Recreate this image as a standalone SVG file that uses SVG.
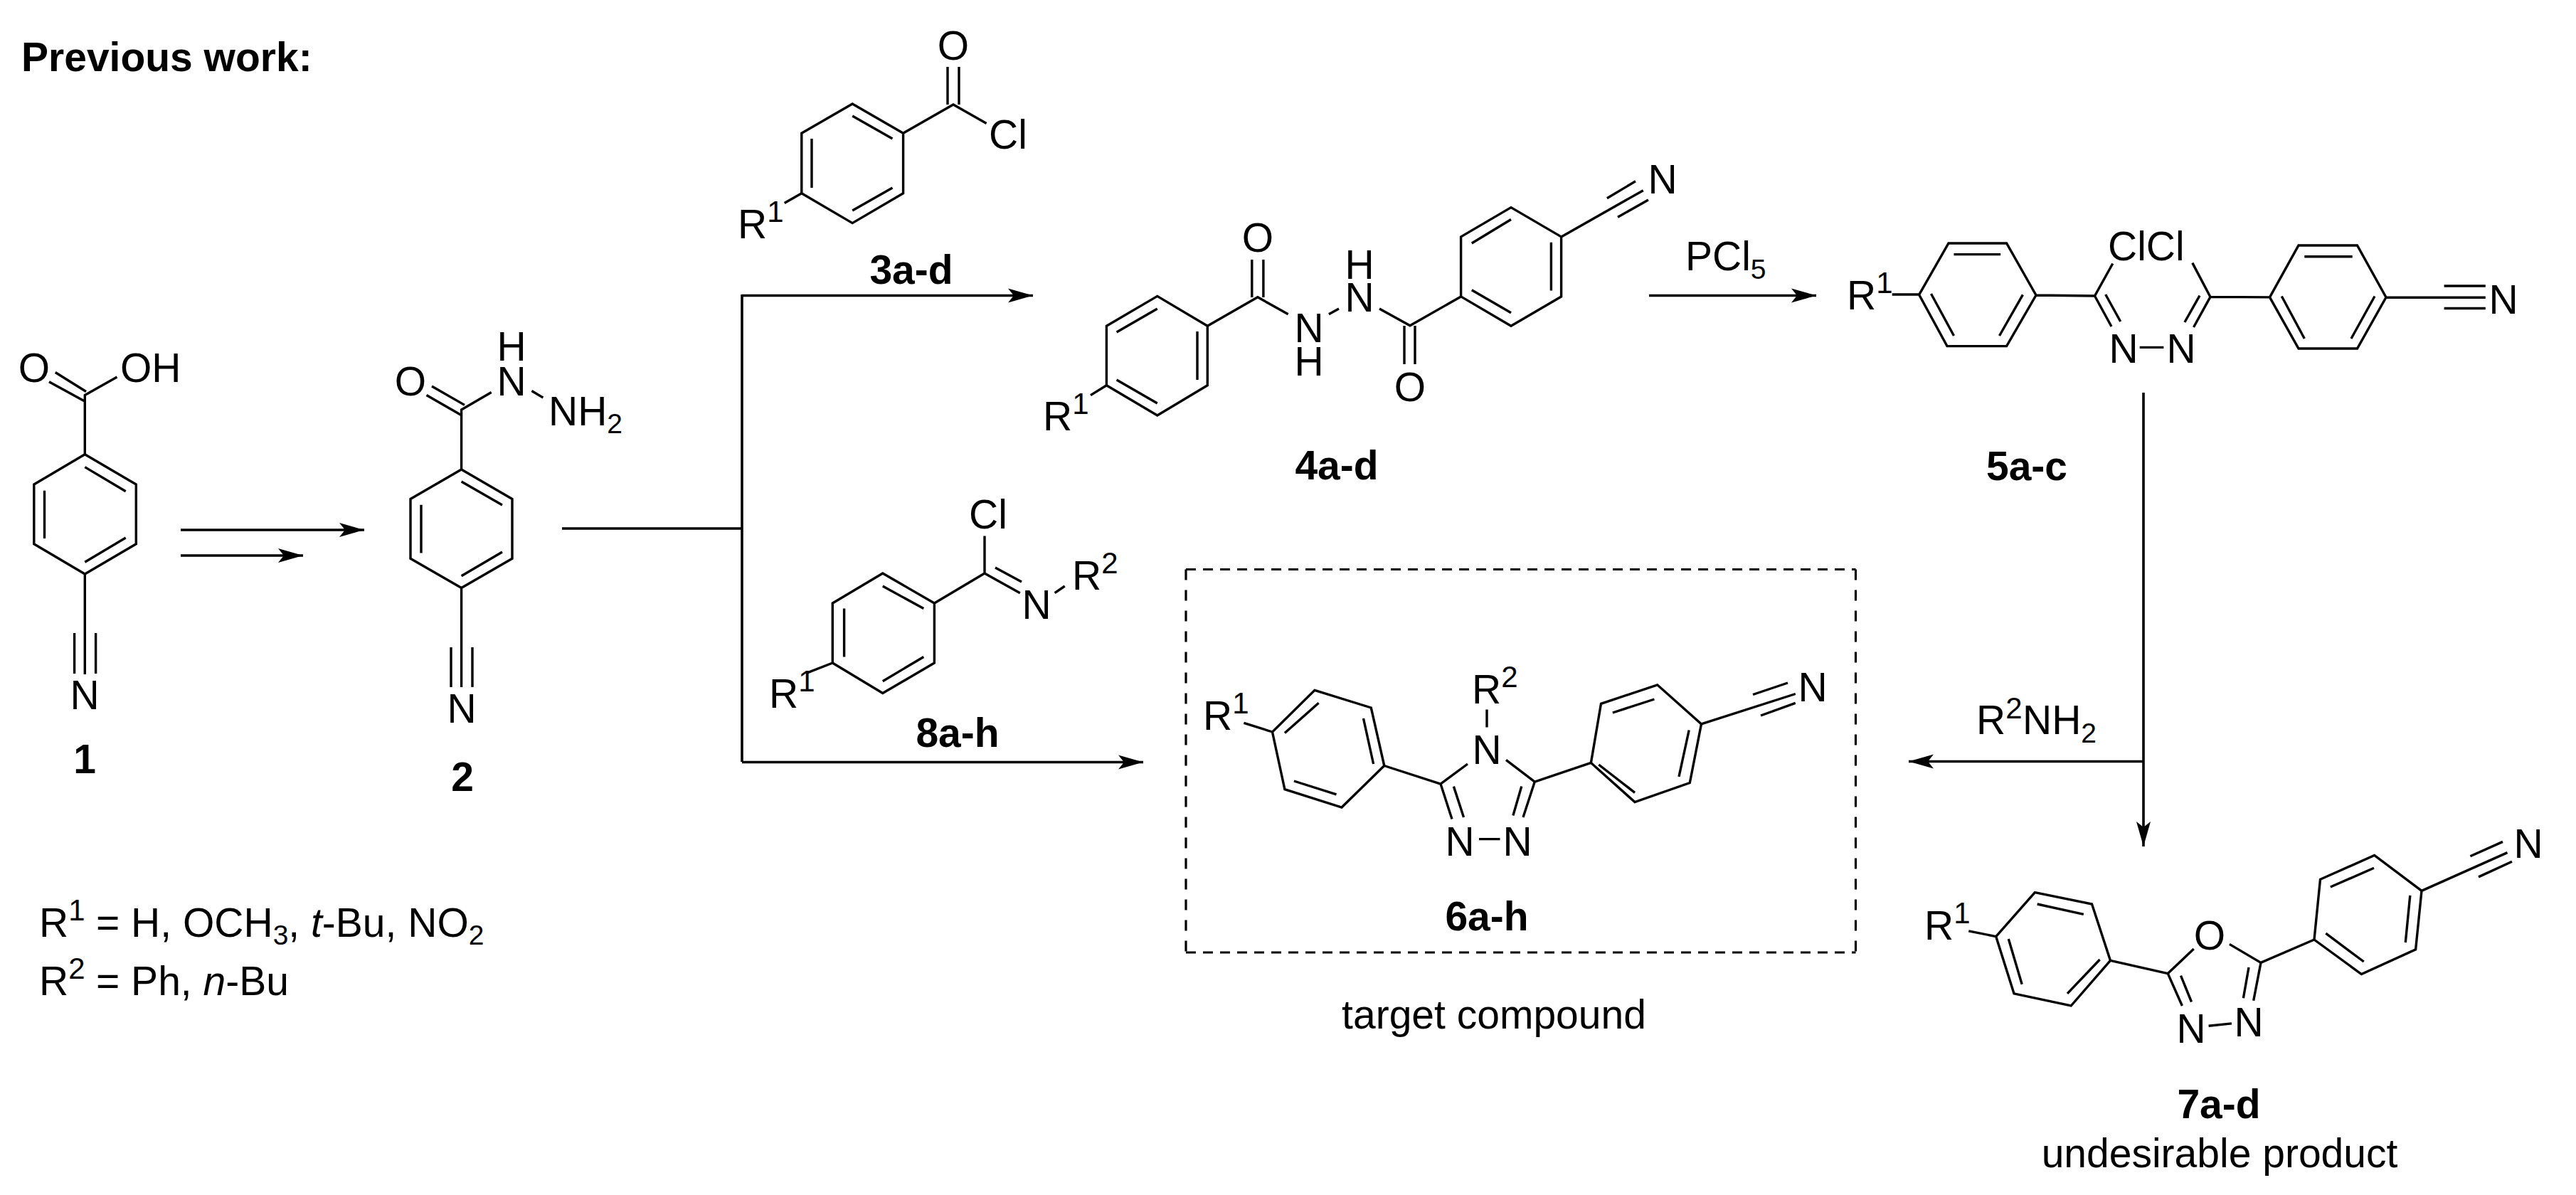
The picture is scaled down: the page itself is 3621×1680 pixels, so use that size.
<svg xmlns="http://www.w3.org/2000/svg" width="3621" height="1680" viewBox="0 0 3621 1680">
<style>
text{font-family:"Liberation Sans",Arial,sans-serif;font-size:57px;fill:#000}
.m{text-anchor:middle}
.b{font-weight:bold}
.i{font-style:italic}
.u{font-size:42px}
.l{font-size:39px}
path.s{fill:none;stroke:#000;stroke-width:3.4;stroke-linejoin:miter;stroke-linecap:butt}
path.a{fill:none;stroke:#000;stroke-width:3.6}
.h{fill:none;stroke:#000;stroke-width:3.2;stroke-dasharray:14 10}
.v{fill:none;stroke:#000;stroke-width:3.2;stroke-dasharray:15 14}
</style>
<defs>
<marker id="ah" markerUnits="userSpaceOnUse" markerWidth="36" markerHeight="24" refX="35" refY="12" orient="auto"><path d="M35 12L0 2L8 12L0 22Z" fill="#000"/></marker>
</defs>
<rect width="3621" height="1680" fill="#fff"/>
<text id="heading" class="b" x="30" y="100">Previous work:</text>
<g id="connectors">
<path class="a" marker-end="url(#ah)" d="M254 745H512"/>
<path class="a" marker-end="url(#ah)" d="M254 781H426"/>
<path class="a" d="M790 743H1043"/>
<path class="a" marker-end="url(#ah)" d="M1043 415.500H1452"/>
<path class="a" d="M1043 414V1071"/>
<path class="a" marker-end="url(#ah)" d="M1043 1071.500H1607"/>
<path class="a" marker-end="url(#ah)" d="M2318 415.500H2553"/>
<path class="a" marker-end="url(#ah)" d="M3013 552V1190"/>
<path class="a" marker-end="url(#ah)" d="M3013 1070.500H2683"/>
<text x="2369" y="380">PCl<tspan class="l" dy="12">5</tspan></text>
<text x="2778" y="1032">R<tspan class="u" dy="-22">2</tspan><tspan dy="22" x="2843">NH</tspan><tspan class="l" dy="12">2</tspan></text>
</g>
<g id="mol1">
<path class="s" d="M119.300 638.800L191.300 681V764.800L119.300 807L47.800 764.800V681ZM119.300 656.600L176.700 690.800M62.500 689.800V757M119.300 790.300L176.700 756M119.300 638.800V555.600L164.500 530M77.800 523.500L121 550.500M69 536.700L119.300 564.300M119.300 807V948M104.600 890V947M134.600 890V947"/>
<text class="m" x="48" y="537">O</text><text x="169" y="537">OH</text><text class="m" x="119" y="997">N</text>
<text class="m b" x="119" y="1087">1</text>
</g>
<g id="mol2">
<path class="s" d="M648.600 660L720 701.500V785.200L648.600 826.500L577 785.200V701.500ZM648.600 677L706 710M592 709.700V777.600M648.600 809.700L706 776M648.600 660V576L690.700 551.500M607 543L653 569.400M599.500 555.600L648.600 583.700M747.400 549.500L763.400 559M648.600 826.500V966M634 910V966M664 910V966"/>
<text class="m" x="577" y="556">O</text><text class="m" x="719" y="507">H</text><text class="m" x="719" y="556">N</text>
<text x="771" y="598">NH<tspan class="l" dy="11">2</tspan></text>
<text class="m" x="649" y="1016">N</text>
<text class="m b" x="650" y="1112">2</text>
</g>
<g id="mol3">
<path class="s" d="M1198.200 146L1269.600 187.300V271.800L1198.200 313.600L1126.800 271.800V187.300ZM1198.200 163L1254.500 195M1141 195V264M1198.200 296L1254.500 264M1269.600 187.300L1340 147L1386.600 173.600M1332 94V147M1348 94V147M1126.800 271.800L1102.700 285.600"/>
<text class="m" x="1340" y="84">O</text><text x="1390" y="209">Cl</text>
<text x="1037" y="335">R<tspan class="u" dy="-23">1</tspan></text>
<text class="m b" x="1281" y="399">3a-d</text>
</g>
<g id="mol4">
<path class="s" d="M1626.800 416.400L1697.300 458.200V541.800L1626.800 584L1555.400 541.800V458.200ZM1626.800 434L1569.600 467M1683 466V534M1569.600 534L1626.800 567M1697.300 458.200L1767.900 417.800L1810.700 441.700M1759.800 365V418M1775.900 365V418M1867.900 441.700L1882 433.900M1939 433.900L1982 457.800L2053.600 416.900M1974 458V512M1989 458V512M2124 291.600L2194.600 332.900V416.900L2124 458.200L2053.600 416.900V332.900ZM2068.800 342L2124 308.500M2180.400 340.700V408.600M2068.800 407.700L2124 439.800M2194.600 332.900L2309.800 267.700M2258.900 278.700L2299 254.800M2274 305.300L2317 281M1555.400 541.800L1533 555.600"/>
<text class="m" x="1768" y="354">O</text><text class="m" x="1840" y="481">N</text><text class="m" x="1840" y="528">H</text>
<text class="m" x="1911" y="438">N</text><text class="m" x="1911" y="392">H</text><text class="m" x="1982" y="564">O</text>
<text class="m" x="2337" y="272">N</text>
<text x="1466" y="605">R<tspan class="u" dy="-23">1</tspan></text>
<text class="m b" x="1879" y="674">4a-d</text>
</g>
<g id="mol5">
<path class="s" d="M2659.700 414H2697.600M2697.600 414.300L2739 342H2820.600L2862 415L2820.600 486.600H2737ZM2746.500 357.600H2812.200M2714.500 413L2746.500 472M2843.400 414.300L2810.500 472M2862 415L2944.500 416L2969.800 370.500M2944.500 416L2968 459M2959.700 414L2980.700 452M3007.700 488.400H3041.400M3081.800 369.600L3107 417.400L3083.500 460M3092 415.600L3070.900 453M3107 417.400L3190.500 417.900M3190.500 417.900L3231 345H3313.500L3354 418L3313.500 490H3231ZM3239.300 360.700H3306.700M3207.300 416.500L3239.300 476M3338 416.500L3305 476M3354 418.300H3493.800M3435.600 402H3493.800M3435.600 433.500H3493.800"/>
<text x="2596" y="435">R<tspan class="u" dy="-23">1</tspan></text>
<text x="2963" y="366">ClCl</text>
<text class="m" x="2985" y="510">N</text><text class="m" x="3066" y="510">N</text><text class="m" x="3519" y="441">N</text>
<text class="m b" x="2849" y="675">5a-c</text>
</g>
<g id="mol8">
<path class="s" d="M1240.800 806L1313.400 848V932L1240.800 974.500L1170.300 932V848ZM1240.800 824L1298.300 855.600M1186.600 855.600V923.500M1240.800 957.700L1298.300 923.500M1313.400 848L1384 806V753.600M1384 806L1433.800 833.700M1399 798L1436 818M1482.600 833.700L1496.700 824M1170.300 932L1133.400 946.400"/>
<text x="1362" y="743">Cl</text><text class="m" x="1457" y="870">N</text>
<text x="1507" y="829">R<tspan class="u" dy="-23">2</tspan></text>
<text x="1081" y="995">R<tspan class="u" dy="-23">1</tspan></text>
<text class="m b" x="1346" y="1050">8a-h</text>
</g>
<g id="mol6">
<path class="h" d="M1667 800.500H2608.500M1667 1339H2608.500"/>
<path class="v" d="M1667 800.500V1339M2608.500 800.500V1339"/>
<path class="s" d="M1848 970.400L1927.300 995L1945.800 1076.500L1886 1135L1805.900 1109.700L1788.500 1029ZM1853.600 988.300L1805.900 1030.600M1916.500 1010L1930.600 1074M1818.900 1098L1878.500 1116.800M1788.500 1029L1748.400 1016.300M1945.800 1076.500L2025 1102L2063 1074M2090 997.400V1022.400M2117 1068.400L2157.300 1099L2236.400 1072.400M2025 1102L2041 1151.500M2043.400 1105.600L2057.500 1149M2157.300 1099L2141 1149M2138.800 1105.600L2126.900 1146.400M2079 1179.600H2108.500M2236.400 1072.400L2250.500 989.300L2329.700 962.800L2391.500 1017.900L2375.300 1100.500L2298 1127.600ZM2266.800 1002L2325.400 983M2374.200 1026.500L2360 1091.800M2247.300 1075L2298 1114.300M2391.500 1017.900L2523.800 975.500M2464 976.500L2513 960M2475 1006L2523.800 988.300"/>
<text x="1691" y="1026">R<tspan class="u" dy="-23">1</tspan></text>
<text x="2069" y="989">R<tspan class="u" dy="-23">2</tspan></text>
<text class="m" x="2090" y="1074">N</text><text class="m" x="2052" y="1203">N</text><text class="m" x="2133" y="1203">N</text><text class="m" x="2548" y="986">N</text>
<text class="m b" x="2090" y="1308">6a-h</text>
<text class="m" x="2100" y="1446">target compound</text>
</g>
<g id="mol7">
<path class="s" d="M2860.400 1254.600L2940.500 1271L2966.500 1350.400L2911.200 1414L2831 1396.800L2805.700 1316.600ZM2863.700 1271L2928.800 1285.300M2823.300 1320L2842.200 1383.800M2906 1396.800L2951.600 1349M2805.700 1316.600L2767.300 1308.800M2966.500 1350.400L3047.300 1368.600L3083.700 1334M3133.900 1327.400L3178 1353.400L3253 1321M3047.300 1368.600L3067.400 1414M3065.500 1371.600L3080.500 1408.500M3178 1353.400L3167.700 1406.800M3161 1360L3153.400 1403.300M3104.600 1442.300L3137 1438.900M3253 1321L3261.500 1236.300L3337.600 1202.500L3404 1252.400L3395.600 1334.800L3319.400 1369.500ZM3275.800 1247L3337 1220.300M3387.800 1258.900L3381.300 1325M3269.300 1312.200L3322.700 1352M3404 1252.400L3524.500 1198.600M3472.400 1203.800L3518 1183.400M3484 1232.900L3531 1211.200"/>
<text x="2705" y="1321">R<tspan class="u" dy="-23">1</tspan></text>
<text class="m" x="3106" y="1335">O</text><text class="m" x="3080" y="1466">N</text><text class="m" x="3161" y="1457">N</text><text class="m" x="3554" y="1206">N</text>
<text class="m b" x="3119" y="1572">7a-d</text>
<text class="m" x="3120" y="1641">undesirable product</text>
</g>
<g id="legend">
<text x="55" y="1317">R<tspan class="u" dy="-23">1</tspan><tspan dy="23" x="135">= H, OCH</tspan><tspan class="l" dy="11">3</tspan><tspan dy="-11">, </tspan><tspan class="i">t</tspan>-Bu, NO<tspan class="l" dy="11">2</tspan></text>
<text x="55" y="1399">R<tspan class="u" dy="-23">2</tspan><tspan dy="23" x="135">= Ph, </tspan><tspan class="i">n</tspan>-Bu</text>
</g>
</svg>
